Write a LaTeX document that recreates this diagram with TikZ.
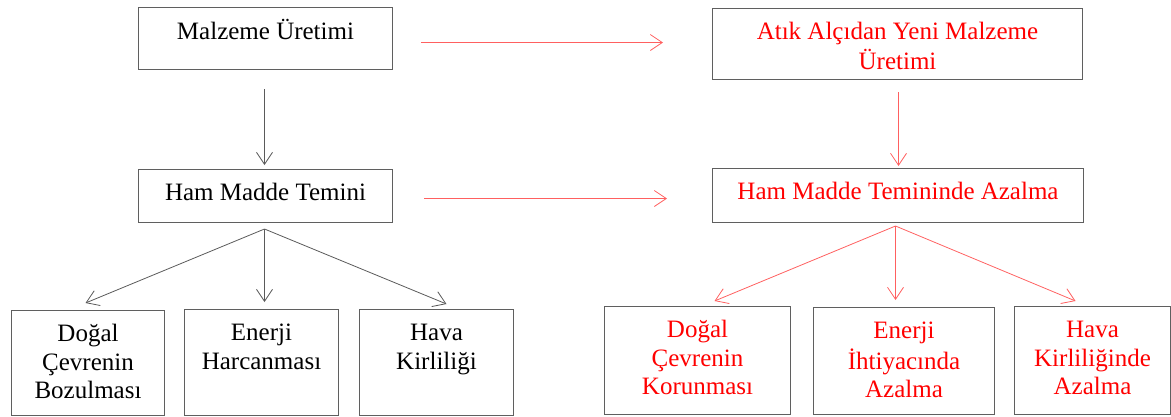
\documentclass[tikz,border=0pt]{standalone}
\usepackage{fontspec}
\setmainfont{Liberation Serif}
\usetikzlibrary{arrows.meta,calc}
\definecolor{txtred}{HTML}{FF0000}
\definecolor{arrred}{HTML}{FF6060}
\definecolor{boxgray}{HTML}{5F5F5F}
\definecolor{arrgray}{HTML}{5A5A5A}
\newcommand\boxtext[3]{\parbox[c][#2][t]{#1}{\centering\vspace*{11.5pt}\strut #3}}
\tikzset{
 box/.style={draw=boxgray, line width=1pt, inner sep=0pt, anchor=north west, font=\fontsize{25}{28.5}\selectfont},
 redbox/.style={box, text=txtred},
 blackarrow/.style={draw=arrgray, line width=0.8pt, -{Straight Barb[length=12pt,width=16pt]}},
 redarrow/.style={blackarrow, draw=arrred},
}
\begin{document}
\begin{tikzpicture}[x=1pt,y=-1pt]
\useasboundingbox (0,0) rectangle (1171,416);
\node[box] (b1) at (138,7) {\boxtext{254pt}{62pt}{Malzeme Üretimi}};
\node[box] (b2) at (138,169) {\boxtext{254pt}{53pt}{Ham Madde Temini}};
\node[redbox] (b3) at (712,8) {\boxtext{370pt}{71pt}{Atık Alçıdan Yeni Malzeme\\Üretimi}};
\node[redbox] (b4) at (712,168) {\boxtext{371pt}{54pt}{Ham Madde Temininde Azalma}};
\node[box] (d1) at (11,310) {\boxtext{153pt}{105pt}{Doğal\\Çevrenin\\Bozulması}};
\node[box] (e1) at (184,309) {\boxtext{154pt}{106pt}{Enerji\\Harcanması}};
\node[box] (h1) at (359,309) {\boxtext{154pt}{106pt}{Hava\\Kirliliği}};
\node[redbox] (d2) at (604,306) {\boxtext{186pt}{108pt}{Doğal\\Çevrenin\\Korunması}};
\node[redbox] (e2) at (813,307) {\boxtext{181pt}{107pt}{Enerji\\İhtiyacında\\Azalma}};
\node[redbox] (h2) at (1014,306) {\boxtext{156pt}{108pt}{Hava\\Kirliliğinde\\Azalma}};
% arrows
\draw[blackarrow] ($(b1.south)+(-1,19)$) -- ($(b2.north)+(-1,-4)$);
\draw[redarrow] ($(b1.east)+(28,4)$) -- ($(b3.west)+(-49,-1.5)$);
\draw[redarrow] ($(b2.east)+(31,2.5)$) -- ($(b4.west)+(-45,3)$);
\draw[redarrow] ($(b3.south)+(1,12)$) -- ($(b4.north)+(0.5,-2)$);
\coordinate (fb) at ($(b2.south)+(-1,6)$);
\draw[blackarrow] (fb) -- ($(d1.north)+(-2.5,-7)$);
\draw[blackarrow] (fb) -- ($(e1.north)+(3,-7)$);
\draw[blackarrow] (fb) -- ($(h1.north)+(10,-5)$);
\coordinate (fr) at ($(b4.south)+(-2.5,3)$);
\draw[redarrow] (fr) -- ($(d2.north)+(17,-5)$);
\draw[redarrow] (fr) -- ($(e2.north)+(-8.5,-7)$);
\draw[redarrow] (fr) -- ($(h2.north)+(-17,-5)$);
\end{tikzpicture}
\end{document}
